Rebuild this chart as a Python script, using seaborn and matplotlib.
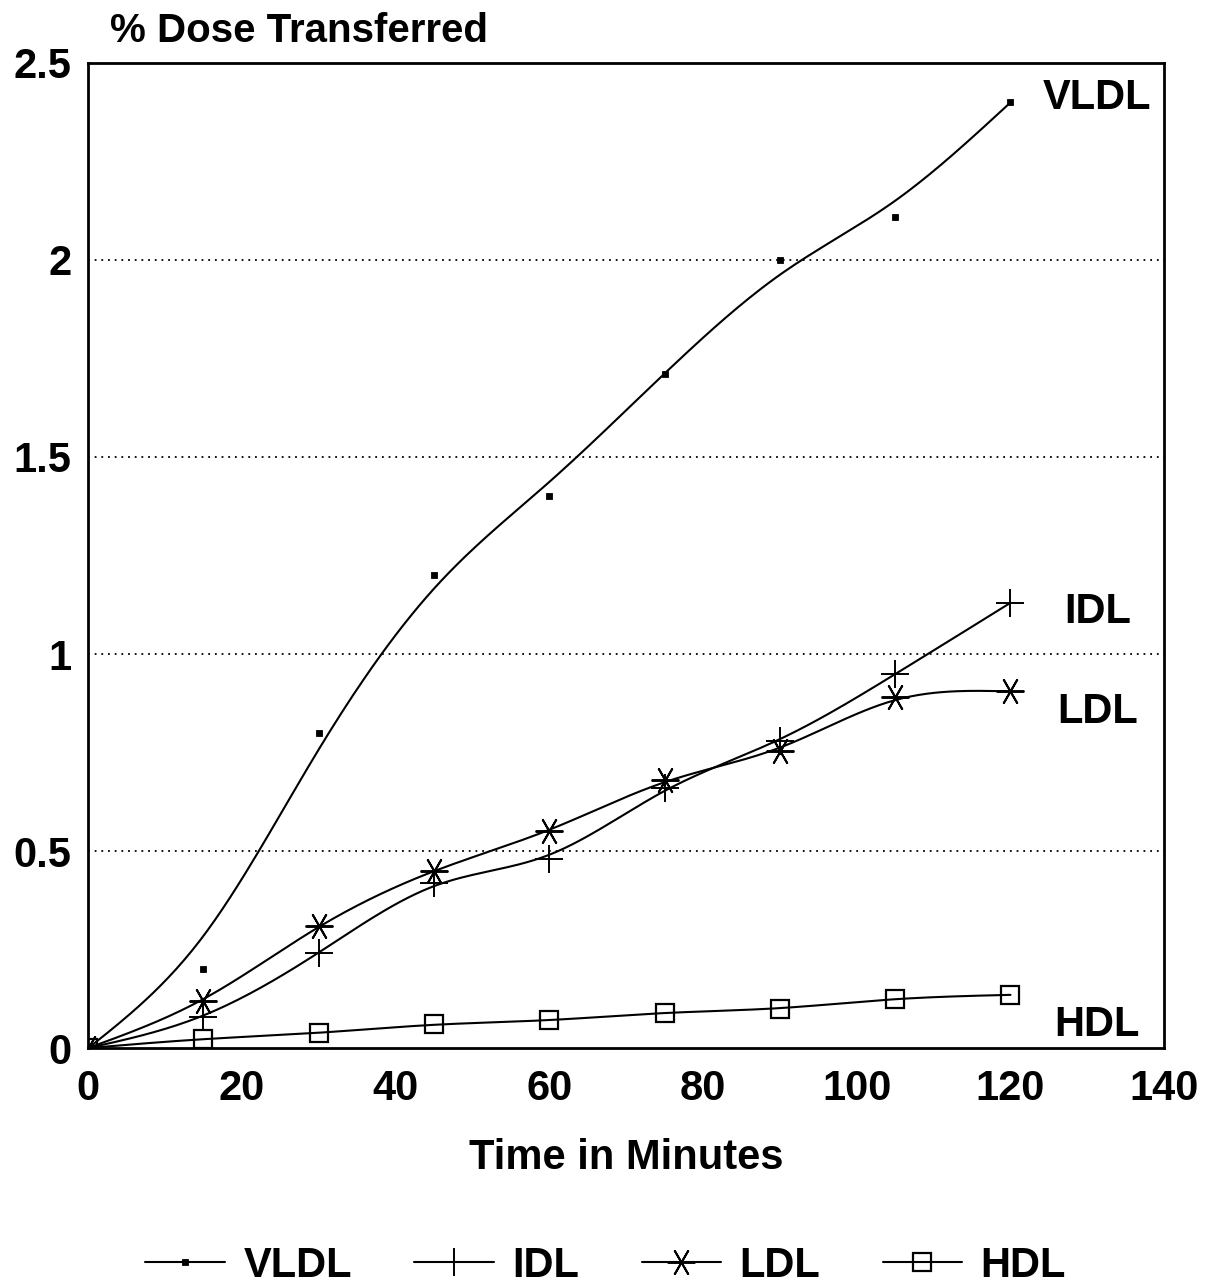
import numpy as np
import pandas as pd
import matplotlib
matplotlib.use("Agg")
import matplotlib.pyplot as plt
from matplotlib.lines import Line2D
import seaborn as sns

# Sampling times (minutes)
minutes = [0, 15, 30, 45, 60, 75, 90, 105, 120]

# % of dose transferred to each lipoprotein fraction
vldl = [0.0, 0.20, 0.80, 1.20, 1.40, 1.71, 2.00, 2.11, 2.40]
idl = [0.0, 0.08, 0.24, 0.42, 0.48, 0.66, 0.78, 0.95, 1.13]
ldl = [0.0, 0.12, 0.31, 0.45, 0.55, 0.68, 0.755, 0.89, 0.905]
hdl = [0.0, 0.023, 0.038, 0.06, 0.07, 0.09, 0.10, 0.125, 0.135]

series_names = ["VLDL", "IDL", "LDL", "HDL"]
x_ticks = [0, 20, 40, 60, 80, 100, 120, 140]
y_ticks = [0, 0.5, 1, 1.5, 2, 2.5]
y_tick_labels = ["0", "0.5", "1", "1.5", "2", "2.5"]


def smoothing_spline(x, y, lam, step=0.5, end_weight=50.0):
    """Discrete penalised (Whittaker) smoother evaluated on a fine grid."""
    x = np.asarray(x, float)
    y = np.asarray(y, float)
    xf = np.arange(x.min(), x.max() + step / 2, step)
    n = len(xf)
    idx = np.round((x - xf[0]) / step).astype(int)
    w = np.zeros(n)
    yy = np.zeros(n)
    w[idx] = 1.0
    w[idx[0]] = end_weight
    w[idx[-1]] = end_weight
    yy[idx] = y
    d = np.diff(np.eye(n), 2, axis=0)
    a = np.diag(w) + lam * d.T @ d
    z = np.linalg.solve(a, w * yy)
    return xf, z


sns.set_theme(style="white")
plt.rcParams["font.family"] = ["Liberation Sans", "DejaVu Sans"]
plt.rcParams.update({
    "font.weight": "bold",
    "text.color": "black",
    "axes.labelcolor": "black",
    "xtick.color": "black",
    "ytick.color": "black",
})

FS = 30

fig = plt.figure(figsize=(12.14, 12.85), dpi=100)
ax = fig.add_axes([0.0725, 0.1844, 0.8865, 0.7666])

values = {"VLDL": vldl, "IDL": idl, "LDL": ldl, "HDL": hdl}
smooth = {"VLDL": 3000.0, "IDL": 400.0, "LDL": 400.0, "HDL": 400.0}
marker_style = {
    "VLDL": dict(marker="s", markersize=4.5, markerfacecolor="black",
                 markeredgecolor="black", markeredgewidth=0.6),
    "IDL": dict(marker="+", markersize=20, markeredgecolor="black",
                markeredgewidth=1.4),
    "LDL": dict(marker=(6, 2, 30), markersize=20, markeredgecolor="black",
                markeredgewidth=1.4),
    "HDL": dict(marker="s", markersize=13, markerfacecolor="none",
                markeredgecolor="black", markeredgewidth=1.6),
}

curve_frames = []
for name in series_names:
    xf, zf = smoothing_spline(minutes, values[name], smooth[name])
    curve_frames.append(pd.DataFrame({"Time": xf, "Dose": zf, "Fraction": name}))
curves = pd.concat(curve_frames, ignore_index=True)

sns.lineplot(data=curves, x="Time", y="Dose", units="Fraction", estimator=None,
             color="black", linewidth=1.5, legend=False, ax=ax, sort=False)

for name in series_names:
    ax.plot(minutes, values[name], linestyle="none", **marker_style[name])

# Dotted reference lines
for gy in [0.5, 1.0, 1.5, 2.0]:
    ax.axhline(gy, color="black", linestyle=(0, (1, 2.7)), linewidth=1.3, zorder=0)

ax.set_xlim(0, 140)
ax.set_ylim(0, 2.5)
ax.set_xticks(x_ticks)
ax.set_yticks(y_ticks)
ax.set_yticklabels(y_tick_labels)
ax.tick_params(axis="both", direction="in", width=1.5, colors="black",
               labelsize=FS)
ax.tick_params(axis="x", length=9.5, pad=15)
ax.tick_params(axis="y", length=12, pad=12)
for lab in ax.get_xticklabels() + ax.get_yticklabels():
    lab.set_fontweight("bold")
for sp in ax.spines.values():
    sp.set_color("black")
    sp.set_linewidth(2.0)

ax.set_xlabel("Time in Minutes", fontsize=FS, fontweight="bold", labelpad=21)
ax.set_ylabel("")
fig.text(0.0905, 0.976, "% Dose Transferred", fontsize=29, fontweight="bold",
         ha="left", va="center")

# Series labels at the right end of each curve
label_pos = {"VLDL": 2.41, "IDL": 1.107, "LDL": 0.853, "HDL": 0.058}
for name in series_names:
    ax.text(131.3, label_pos[name], name, fontsize=FS, fontweight="bold",
            ha="center", va="center")

handles = [Line2D([0], [0], color="black", linewidth=1.5, **marker_style[n])
           for n in series_names]
fig.legend(handles, series_names, loc="center", bbox_to_anchor=(0.499, 0.015),
           ncol=4, frameon=False, handlelength=1.9,
           handletextpad=0.45, columnspacing=1.5,
           prop={"weight": "bold", "size": FS})

fig.savefig("out.png", dpi=100, facecolor="white")
